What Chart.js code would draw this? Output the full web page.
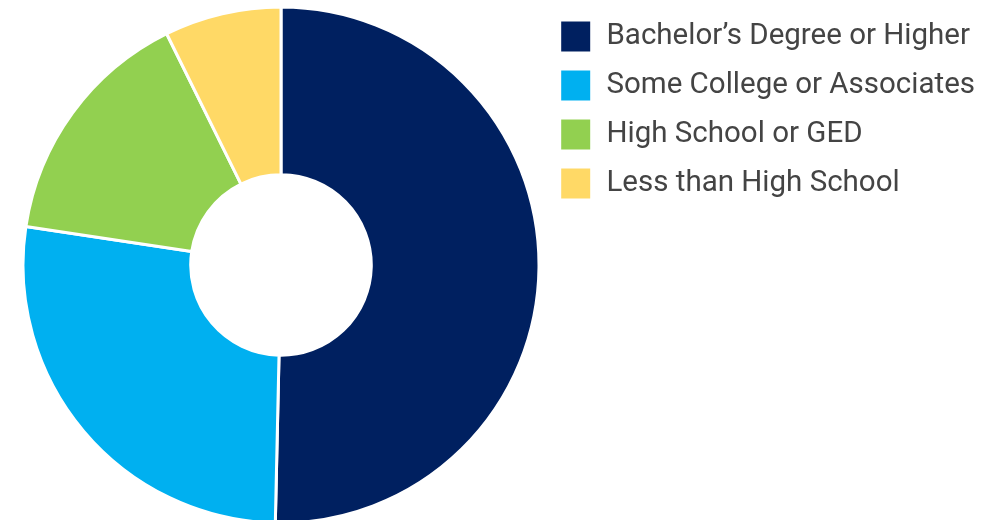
<!DOCTYPE html>
<html>
<head>
<meta charset="utf-8">
<script src="https://cdn.jsdelivr.net/npm/chart.js@4"></script>
<style>
  html, body { margin: 0; padding: 0; background: #fff; }
  #wrap { width: 985px; height: 520px; position: relative; }
</style>
</head>
<body>
<div id="wrap"><canvas id="eduChart"></canvas></div>
<script>
// education attainment shares (%)
const labels = [
  'Bachelor\u2019s Degree or Higher',
  'Some College or Associates',
  'High School or GED',
  'Less than High School'
];
const shares = [50.3, 27.0, 15.3, 7.3];
const colors = ['#002060', '#00B0F0', '#92D050', '#FFD966'];

const RING_R = 258;
const RING_CX = 281;
const RING_CY = 265;

// put the ring where the original has it, legend stays where layout put it
const placeRing = {
  id: 'placeRing',
  afterLayout(chart) {
    const a = chart.chartArea;
    a.left = RING_CX - RING_R;
    a.right = RING_CX + RING_R;
    a.top = RING_CY - RING_R;
    a.bottom = RING_CY + RING_R;
    a.width = a.right - a.left;
    a.height = a.bottom - a.top;
  }
};

const ctx = document.getElementById('eduChart').getContext('2d');

new Chart(ctx, {
  type: 'doughnut',
  data: {
    labels: labels,
    datasets: [{
      data: shares,
      backgroundColor: colors,
      borderColor: '#ffffff',
      borderWidth: 3,
      hoverOffset: 0,
      radius: RING_R
    }]
  },
  options: {
    responsive: true,
    maintainAspectRatio: false,
    animation: false,
    cutout: '35%',
    layout: { padding: { top: 4, bottom: 0, left: 0, right: 0 } },
    plugins: {
      tooltip: { enabled: false },
      legend: {
        position: 'right',
        align: 'start',
        labels: {
          boxWidth: 32,
          boxHeight: 33,
          padding: 16,
          color: '#444444',
          font: { family: 'Roboto', size: 29.5 }
        }
      }
    }
  },
  plugins: [placeRing]
});
</script>
</body>
</html>
